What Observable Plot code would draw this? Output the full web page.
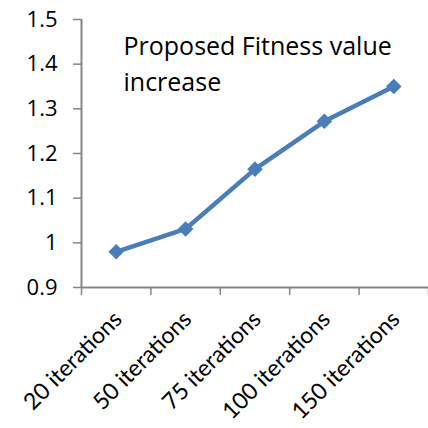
<!DOCTYPE html>
<html>
<head>
<meta charset="utf-8">
<script src="https://cdn.jsdelivr.net/npm/d3@7"></script>
<script src="https://cdn.jsdelivr.net/npm/@observablehq/plot@0.6"></script>
<style>
  html, body { margin: 0; padding: 0; background: #ffffff; }
</style>
</head>
<body>
<div id="chart"></div>
<script>
const categories = ["20 iterations", "50 iterations", "75 iterations", "100 iterations", "150 iterations"];
const values = [0.98, 1.031, 1.165, 1.272, 1.35];
const yTicks = [0.9, 1.0, 1.1, 1.2, 1.3, 1.4, 1.5];
const yTickLabels = ["0.9", "1", "1.1", "1.2", "1.3", "1.4", "1.5"];
const titleLines = ["Proposed Fitness value", "increase"];

const idx = categories.map((d, i) => i);
const boundaries = [-0.5, ...idx.map(i => i + 0.5)];
const axisGray = "#868686";
const lineBlue = "#4A7EBB";

const chart = Plot.plot({
  width: 428,
  height: 428,
  marginLeft: 81,
  marginRight: 0,
  marginTop: 19,
  marginBottom: 141,
  style: { fontFamily: "'Open Sans', sans-serif", background: "#ffffff", color: "#000000" },
  x: { domain: [-0.5, categories.length - 0.5], axis: null },
  y: { domain: [yTicks[0], yTicks[yTicks.length - 1]], axis: null },
  marks: [
    Plot.axisY({
      ticks: yTicks,
      tickSize: 8,
      tickPadding: 16,
      fontSize: 22,
      stroke: axisGray,
      strokeWidth: 1.5,
      fill: "#000000",
      tickFormat: d => yTickLabels[yTicks.findIndex(t => Math.abs(t - d) < 1e-9)]
    }),
    Plot.axisX({
      ticks: boundaries,
      tickSize: 8,
      stroke: axisGray,
      strokeWidth: 1.5,
      tickFormat: () => ""
    }),
    Plot.ruleX([-0.5], { stroke: axisGray, strokeWidth: 2 }),
    Plot.ruleY([yTicks[0]], { stroke: axisGray, strokeWidth: 2 }),
    Plot.text(categories, {
      x: (d, i) => i,
      frameAnchor: "bottom",
      text: d => d,
      rotate: -45,
      textAnchor: "end",
      lineAnchor: "middle",
      dx: 2,
      dy: 28,
      fontSize: 23,
      fontFamily: "Lato, sans-serif",
      fill: "#000000"
    }),
    Plot.line(values, {
      x: (d, i) => i,
      y: d => d,
      stroke: lineBlue,
      strokeWidth: 4.5,
      strokeLinejoin: "round"
    }),
    Plot.dot(values, {
      x: (d, i) => i,
      y: d => d,
      symbol: "diamond2",
      r: 7,
      fill: lineBlue,
      stroke: "none"
    }),
    Plot.text([titleLines.join("\n")], {
      frameAnchor: "top-left",
      textAnchor: "start",
      lineAnchor: "top",
      dx: 42,
      dy: 10,
      fontSize: 25,
      lineHeight: 1.44,
      fill: "#000000"
    })
  ]
});

document.getElementById("chart").appendChild(chart);
</script>
</body>
</html>
